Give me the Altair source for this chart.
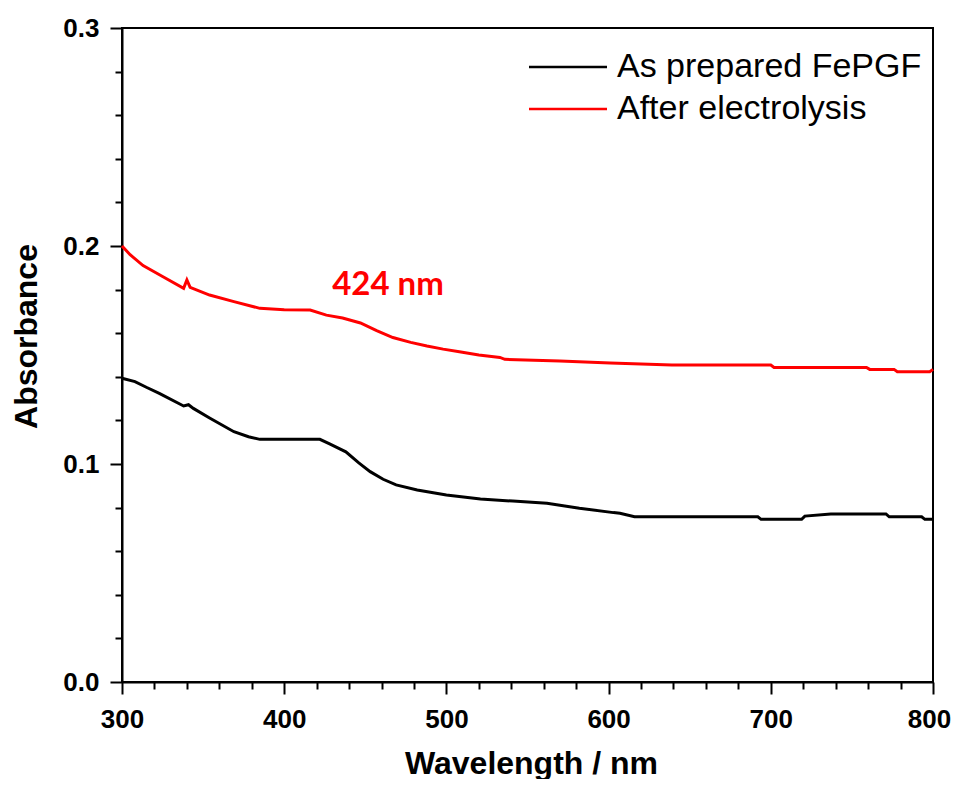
import altair as alt
import pandas as pd

# ---- data ----
series_names = ["As prepared FePGF", "After electrolysis"]
series_colors = ["#000000", "#FF0000"]

wl_black = [300, 308, 315, 323, 338, 341, 344, 354, 369, 378, 385, 422, 428, 438, 446,
            453, 461, 469, 482, 500, 521, 541, 562, 582, 603, 607, 616, 692, 694, 719,
            721, 737, 771, 773, 793, 795, 800]
ab_black = [0.1393, 0.1378, 0.1352, 0.1324, 0.1266, 0.1272, 0.1255, 0.1211, 0.1148, 0.1125,
            0.1113, 0.1113, 0.1092, 0.1056, 0.1005, 0.0965, 0.0930, 0.0904, 0.0881, 0.0858,
            0.0839, 0.0830, 0.0820, 0.0797, 0.0777, 0.0774, 0.0758, 0.0758, 0.0746, 0.0746,
            0.0761, 0.0771, 0.0771, 0.0758, 0.0758, 0.0746, 0.0746]

wl_red = [300, 305, 313, 325, 338, 340, 342, 354, 369, 385, 400, 416, 426, 436, 447, 457,
          467, 478, 488, 498, 508, 520, 533, 536, 570, 601, 639, 700, 702, 759, 761, 776,
          778, 798, 800]
ab_red = [0.2000, 0.1960, 0.1910, 0.1860, 0.1806, 0.1844, 0.1810, 0.1775, 0.1745, 0.1714,
          0.1708, 0.1706, 0.1683, 0.1670, 0.1647, 0.1612, 0.1580, 0.1558, 0.1541, 0.1527,
          0.1515, 0.1500, 0.1489, 0.1480, 0.1472, 0.1463, 0.1454, 0.1454, 0.1443, 0.1443,
          0.1434, 0.1434, 0.1423, 0.1423, 0.1434]

x_major = [300, 400, 500, 600, 700, 800]
x_minor = [v for v in range(300, 801, 20) if v % 100 != 0]
y_major = [0.0, 0.1, 0.2, 0.3]
y_minor = [0.02, 0.04, 0.06, 0.08, 0.12, 0.14, 0.16, 0.18, 0.22, 0.24, 0.26, 0.28]

annot_text = ["424 nm"]
annot_wl = [464]
annot_ab = [0.182]

# ---- tables ----
df = pd.DataFrame({
    "wl": wl_black + wl_red,
    "ab": ab_black + ab_red,
    "series": [series_names[0]] * len(wl_black) + [series_names[1]] * len(wl_red),
})
df_annot = pd.DataFrame({"wl": annot_wl, "ab": annot_ab, "label": annot_text})

xscale = alt.Scale(domain=[300, 800], nice=False, zero=False)
yscale = alt.Scale(domain=[0, 0.3], nice=False, zero=False)

FONT = "Liberation Sans"

x_axis = alt.Axis(
    orient="bottom", values=x_major, format="d", title="Wavelength / nm",
    labelFont=FONT, labelFontSize=26, labelFontWeight="bold", labelColor="black",
    labelPadding=12, labelFlush=False, labelOverlap=False,
    labelOffset={"condition": {"test": "datum.value == 800", "value": -4}, "value": 0},
    tickSize=12, tickWidth=2, tickColor="black",
    domainColor="black", domainWidth=2, grid=False,
    titleFont=FONT, titleFontSize=32, titleFontWeight="bold", titleColor="black",
    titleX=409, titleY=91, titleBaseline="alphabetic", titleAlign="center",
)
y_axis = alt.Axis(
    orient="left", values=y_major, format=".1f", title="Absorbance",
    labelFont=FONT, labelFontSize=26, labelFontWeight="bold", labelColor="black",
    labelPadding=11, labelFlush=False, labelOverlap=False,
    tickSize=12, tickWidth=2, tickColor="black",
    domainColor="black", domainWidth=2, grid=False,
    titleFont=FONT, titleFontSize=32, titleFontWeight="bold", titleColor="black",
    titleAngle=270, titleX=-86, titleY=308, titleBaseline="alphabetic", titleAlign="center",
)
x_axis_minor = alt.Axis(
    orient="bottom", values=x_minor, labels=False, title=None, domain=False, grid=False,
    tickSize=7, tickWidth=2, tickColor="black",
)
y_axis_minor = alt.Axis(
    orient="left", values=y_minor, labels=False, title=None, domain=False, grid=False,
    tickSize=7, tickWidth=2, tickColor="black",
)

legend = alt.Legend(
    title=None, orient="none", legendX=452, legendY=22,
    symbolType="M-62,0H16", symbolSize=4, symbolStrokeWidth=2.5,
    labelFont=FONT, labelFontSize=34, labelColor="black", labelOffset=9, labelLimit=0,
    rowPadding=8, padding=0,
)

lines = alt.Chart(df).mark_line(strokeWidth=3).encode(
    x=alt.X("wl:Q", scale=xscale, axis=x_axis),
    y=alt.Y("ab:Q", scale=yscale, axis=y_axis),
    color=alt.Color("series:N", scale=alt.Scale(domain=series_names, range=series_colors),
                    sort=series_names, legend=legend),
)

minor = alt.Chart(df).mark_line(opacity=0).encode(
    x=alt.X("wl:Q", scale=xscale, axis=x_axis_minor),
    y=alt.Y("ab:Q", scale=yscale, axis=y_axis_minor),
    detail="series:N",
)

annot = alt.Chart(df_annot).mark_text(
    font="Lato", fontSize=33, fontWeight="bold", color="#FF0000",
    align="center", baseline="middle",
).encode(
    x=alt.X("wl:Q", scale=xscale, axis=None),
    y=alt.Y("ab:Q", scale=yscale, axis=None),
    text="label:N",
)

chart = alt.layer(lines, minor, annot).resolve_axis(
    x="independent", y="independent"
).properties(
    width=811, height=654,
    autosize=alt.AutoSizeParams(type="none"),
    padding={"left": 114, "top": 20, "right": 18, "bottom": 97},
).configure_view(stroke="black", strokeWidth=2)

chart.save("out.html", embed_options={"renderer": "svg", "actions": False})
